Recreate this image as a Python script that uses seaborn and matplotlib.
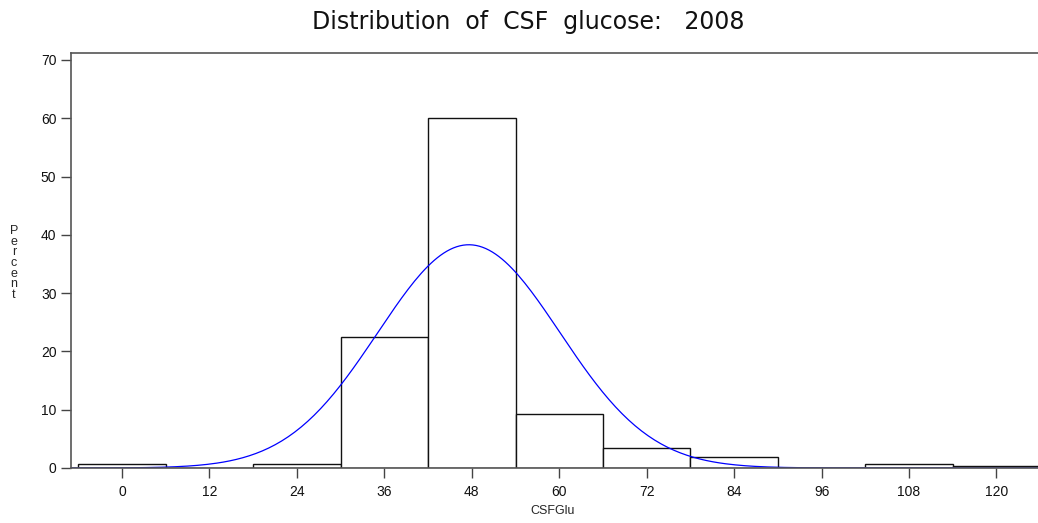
import numpy as np
import pandas as pd
import seaborn as sns
import matplotlib.pyplot as plt

# histogram (bin midpoints, percent)
midpoints = [0, 12, 24, 36, 48, 60, 72, 84, 96, 108, 120]
percent = [0.75, 0.0, 0.75, 22.5, 60.0, 9.3, 3.4, 1.9, 0.0, 0.7, 0.4]
bin_width = 12

# fitted normal curve parameters
mu = 47.6
sigma = 12.5

sns.set_style("white")
plt.rcParams['font.family'] = ['Liberation Sans', 'DejaVu Sans']

df = pd.DataFrame({"CSFGlu": midpoints, "Percent": percent})

fig = plt.figure(figsize=(10.38, 5.23), dpi=100)
ax = fig.add_axes([0.0684, 0.1052, 0.9316, 0.7935])

sns.histplot(data=df, x="CSFGlu", weights="Percent", binwidth=bin_width,
             binrange=(midpoints[0] - bin_width / 2, midpoints[-1] + bin_width / 2),
             stat="count", color="white", edgecolor="#111111", linewidth=1.0,
             alpha=1, ax=ax)

# normal density scaled to percent per bin
xs = np.linspace(-7, 126, 300)
curve = pd.DataFrame({"x": xs,
                      "y": 100 * bin_width / (sigma * np.sqrt(2 * np.pi))
                      * np.exp(-0.5 * ((xs - mu) / sigma) ** 2)})
sns.lineplot(data=curve, x="x", y="y", color="blue", linewidth=0.9, ax=ax)

ax.set_xlim(-7, 125.7)
ax.set_ylim(0, 71.2)
ax.set_xticks(midpoints)
ax.set_yticks(range(0, 71, 10))
ax.tick_params(axis="both", direction="out", length=7, width=1, color="#444444",
               labelsize=10, labelcolor="#111111", bottom=True, left=True)
ax.tick_params(axis="x", pad=5)
for s in ["left", "top", "bottom"]:
    ax.spines[s].set_color("#555555")
    ax.spines[s].set_linewidth(1.2)
ax.spines["right"].set_visible(False)

ax.set_xlabel("")
ax.set_ylabel("")
fig.text(0.532, 0.012, "CSFGlu", fontsize=9, ha="center", va="bottom")
fig.text(0.0135, 0.497, "P\ne\nr\nc\ne\nn\nt", fontsize=9, ha="center", va="center",
         linespacing=0.85)
fig.text(0.509, 0.957, "Distribution  of  CSF  glucose:   2008", fontsize=17,
         family="DejaVu Sans", ha="center", va="center", color="#111111")

fig.savefig("out.png", dpi=100)
